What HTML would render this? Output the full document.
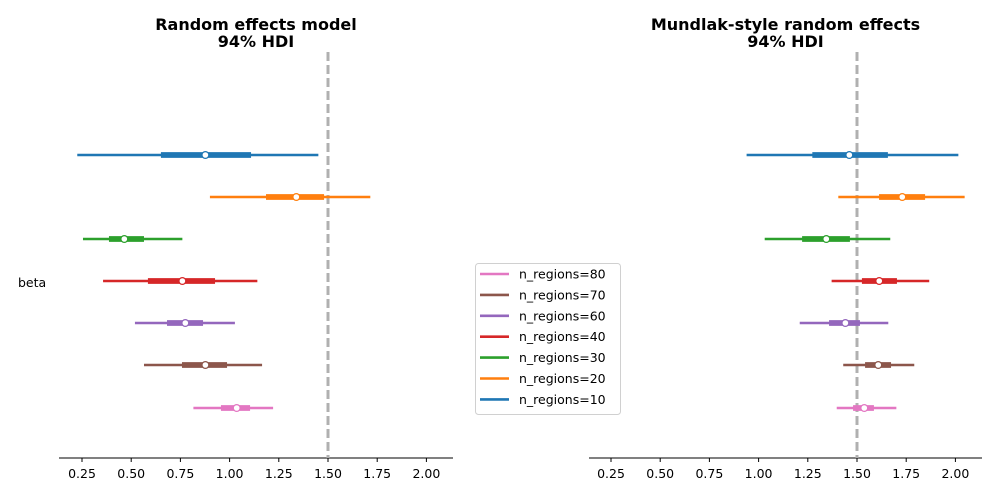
<!DOCTYPE html>
<html><head><meta charset="utf-8"><style>
body{margin:0;background:#fff;}
svg{display:block;font-family:"DejaVu Sans","Liberation Sans",sans-serif;}
</style></head><body>
<svg id="chart" width="1000" height="500"></svg>
<script>
const groups=["n_regions=10","n_regions=20","n_regions=30","n_regions=40","n_regions=60","n_regions=70","n_regions=80"];
const colors=["#1f77b4","#ff7f0e","#2ca02c","#d62728","#9467bd","#8c564b","#e377c2"];
const leftLo=[0.226,0.900,0.255,0.357,0.519,0.565,0.816];
const leftHi=[1.451,1.715,0.760,1.141,1.027,1.165,1.221];
const leftQ1=[0.651,1.185,0.387,0.585,0.682,0.758,0.956];
const leftQ3=[1.109,1.480,0.565,0.926,0.865,0.987,1.104];
const leftMean=[0.877,1.339,0.465,0.760,0.775,0.877,1.036];
const rightLo=[0.939,1.405,1.031,1.371,1.209,1.430,1.397];
const rightHi=[2.015,2.047,1.669,1.867,1.659,1.791,1.700];
const rightQ1=[1.273,1.612,1.221,1.525,1.358,1.541,1.480];
const rightQ3=[1.657,1.846,1.464,1.703,1.515,1.673,1.586];
const rightMean=[1.461,1.730,1.344,1.613,1.441,1.608,1.537];
const ticks=[0.25,0.5,0.75,1.0,1.25,1.5,1.75,2.0];
const tickLabels=["0.25","0.50","0.75","1.00","1.25","1.50","1.75","2.00"];
const refValue=1.5;
const rowY=[155,197,239,281,323,365,408];
const NS="http://www.w3.org/2000/svg";
const svg=document.getElementById('chart');
function mk(tag,attrs,parent){const e=document.createElementNS(NS,tag);for(const k in attrs)e.setAttribute(k,attrs[k]);(parent||svg).appendChild(e);return e;}
function panel(x0,x1,originPx,title,lo,hi,q1,q3,mean,name){
  const g=mk('g',{});
  
  
  const sx=v=>originPx+(v-0.25)*196.8;
  const t=mk('text',{x:(x0+x1)/2,y:30,'text-anchor':'middle','font-size':16,'font-weight':'bold',fill:'#000'},g);
  
  
  t.textContent=title;
  const t2=mk('text',{x:(x0+x1)/2,y:47,'text-anchor':'middle','font-size':16,'font-weight':'bold',fill:'#000'},g);
  
  
  t2.textContent='94% HDI';
  const ax=mk('line',{x1:x0,x2:x1,y1:458,y2:458,stroke:'#000','stroke-width':1},g);
  
  
  ticks.forEach((v,i)=>{
    const tk=mk('line',{x1:sx(v),x2:sx(v),y1:458,y2:462,stroke:'#000'},g);
    
    
    const tl=mk('text',{x:sx(v),y:478,'text-anchor':'middle','font-size':12.5,fill:'#000'},g);
    
    
    tl.textContent=tickLabels[i];
  });
  const rl=mk('line',{x1:sx(refValue),x2:sx(refValue),y1:52,y2:458,stroke:'#b0b0b0','stroke-width':3,'stroke-dasharray':'9,4'},g);
  
  
  groups.forEach((gname,i)=>{
    const y=rowY[i],c=colors[i];
    const l=mk('line',{x1:sx(lo[i]),x2:sx(hi[i]),y1:y,y2:y,stroke:c,'stroke-width':2.6},g);
    
    
    const b=mk('line',{x1:sx(q1[i]),x2:sx(q3[i]),y1:y,y2:y,stroke:c,'stroke-width':5.8},g);
    
    
    const p=mk('circle',{cx:sx(mean[i]),cy:y,r:3.4,fill:'#fff',stroke:c,'stroke-width':1.2},g);
    
    
  });
}
panel(59,453,82,'Random effects model',leftLo,leftHi,leftQ1,leftQ3,leftMean,'left-panel');
panel(589,982,611,'Mundlak-style random effects',rightLo,rightHi,rightQ1,rightQ3,rightMean,'right-panel');
const yl=mk('text',{x:18,y:287,'font-size':12.5,fill:'#000'});


yl.textContent='beta';
const lg=mk('g',{});


mk('rect',{x:475.5,y:263.5,width:145,height:151,rx:3,fill:'#fff',stroke:'#d0d0d0'},lg);
for(let k=0;k<groups.length;k++){
  const i=groups.length-1-k;const y=274+k*20.9;
  const e=mk('g',{},lg);
  
  
  mk('line',{x1:480,x2:509,y1:y,y2:y,stroke:colors[i],'stroke-width':2.6},e);
  const tx=mk('text',{x:519,y:y+4.5,'font-size':12.5,fill:'#000'},e);
  tx.textContent=groups[i];
}
</script>
</body></html>
